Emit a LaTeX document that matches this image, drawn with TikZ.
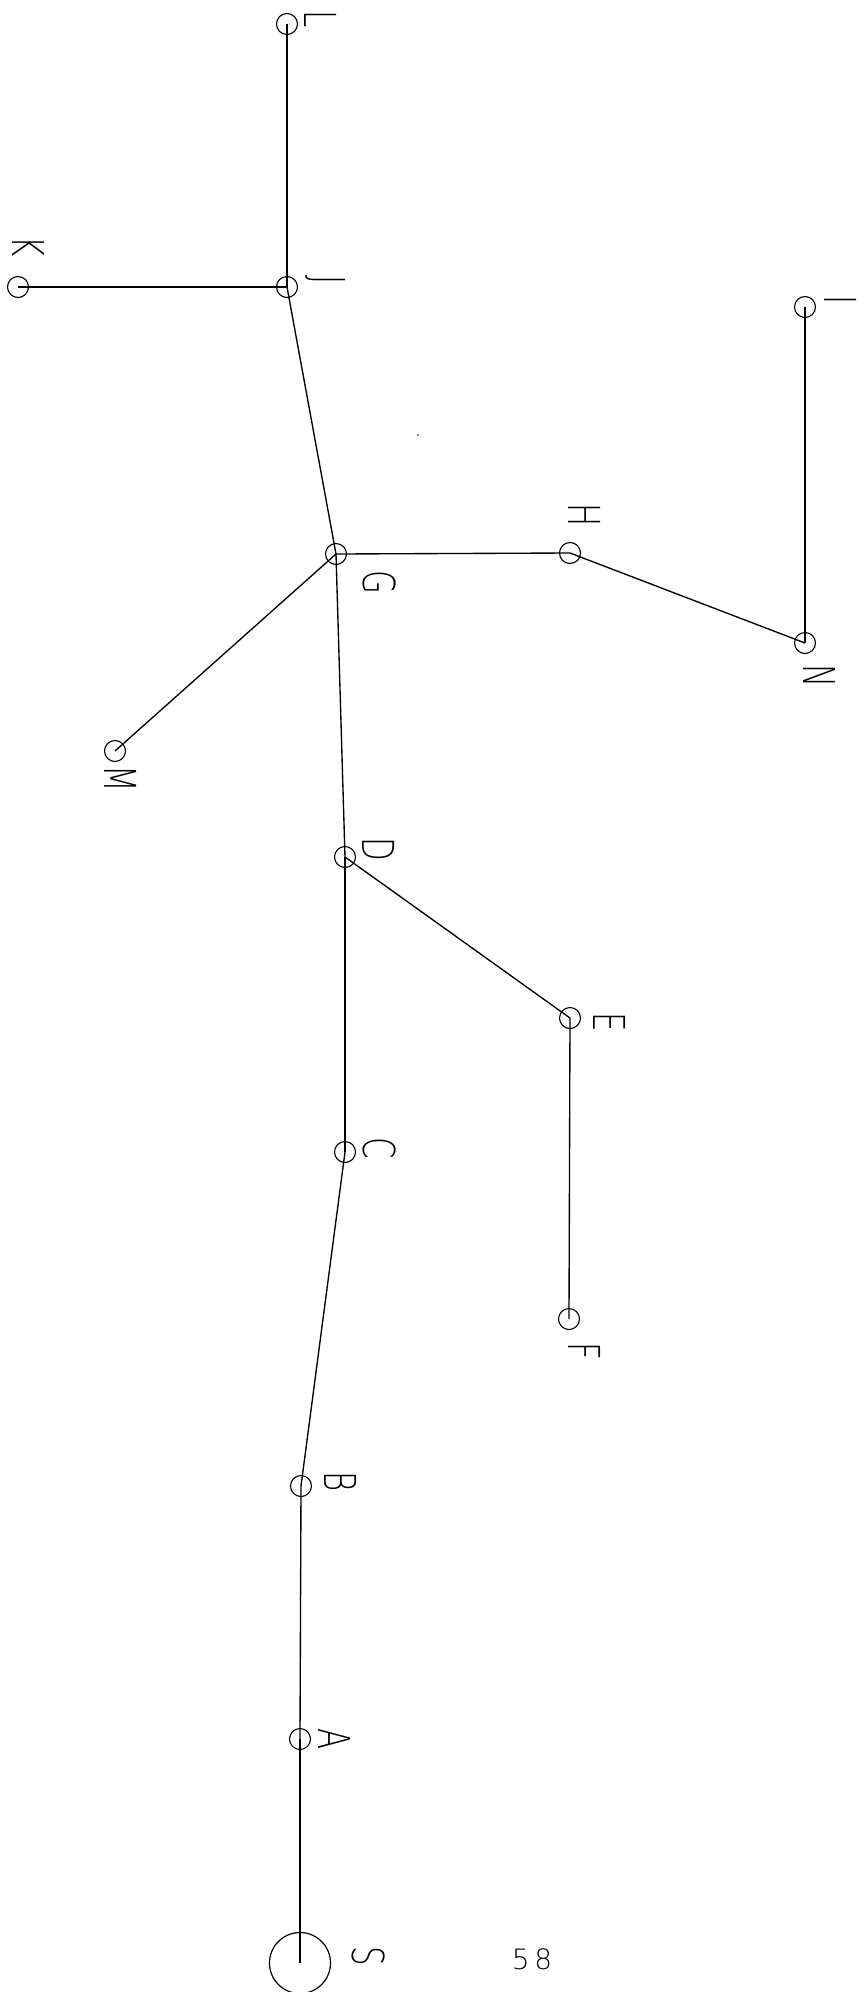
\documentclass[tikz,border=0pt]{standalone}
\usepackage{fontspec}
\newfontfamily\lbl{DejaVu Sans ExtraLight}
\begin{document}
\begin{tikzpicture}[x=1pt,y=-1pt,
  pt/.style={circle, draw, line width=1.1pt, minimum size=21pt, inner sep=0pt},
  src/.style={circle, draw, line width=1.2pt, minimum size=61pt, inner sep=0pt},
  lab/.style={rotate=-90, inner sep=0pt, font=\lbl\fontsize{44}{44}\selectfont},
  num/.style={inner sep=0pt, font=\lbl\fontsize{28}{28}\selectfont},
  edge/.style={line width=1.35pt}]
\useasboundingbox (0,0) rectangle (863,1992);
% points
\node[pt] (L) at (287,24) {};
\node[pt] (J) at (287,287) {};
\node[pt] (K) at (18,287) {};
\node[pt] (I) at (805,307) {};
\node[pt] (H) at (570,553) {};
\node[pt] (N) at (805,643) {};
\node[pt] (G) at (336,554) {};
\node[pt] (M) at (115,751) {};
\node[pt] (D) at (345,857) {};
\node[pt] (E) at (570,1018) {};
\node[pt] (C) at (345,1152) {};
\node[pt] (F) at (569,1319) {};
\node[pt] (B) at (301,1486) {};
\node[pt] (A) at (300,1739) {};
\node[src] (S) at (300,1963) {};
% labels
\node[lab] (tL) at (321,19) {\scalebox{0.7}[1]{L}};
\node[lab] (tK) at (29,247) {\scalebox{0.7}[1]{K}};
\node[lab] (tJ) at (326,280) {\scalebox{0.7}[1]{J}};
\node[lab] (tI) at (841,300) {\scalebox{0.7}[1]{I}};
\node[lab] (tH) at (585,515) {\scalebox{0.7}[1]{H}};
\node[lab] (tN) at (820,676) {\scalebox{0.7}[1]{N}};
\node[lab] (tG) at (380,582) {\scalebox{0.7}[1]{G}};
\node[lab] (tM) at (121,779) {\scalebox{0.7}[1]{M}};
\node[lab] (tD) at (379,849) {\scalebox{0.7}[1]{D}};
\node[lab] (tE) at (610,1022) {\scalebox{0.7}[1]{E}};
\node[lab] (tC) at (380,1148) {\scalebox{0.7}[1]{C}};
\node[lab] (tF) at (585,1351) {\scalebox{0.7}[1]{F}};
\node[lab] (tB) at (341,1482) {\scalebox{0.7}[1]{B}};
\node[lab] (tA) at (335,1739) {\scalebox{0.7}[1]{A}};
\node[lab] (tS) at (369,1956) {\scalebox{0.7}[1]{S}};
\node[num] (page) at (532,1959) {5\,8};
\fill (418,435) circle (0.8pt);
% edges
\draw[edge] (L.center) -- (J.center);
\draw[edge] (K.center) -- (J.center);
\draw[edge] (J.center) -- (G.center);
\draw[edge] (G.center) -- (H.center);
\draw[edge] (H.center) -- (N.center);
\draw[edge] (N.center) -- (I.center);
\draw[edge] (G.center) -- (M.center);
\draw[edge] (G.center) -- (D.center);
\draw[edge] (D.center) -- (E.center);
\draw[edge] (E.center) -- (F.center);
\draw[edge] (D.center) -- (C.center);
\draw[edge] (C.center) -- (B.center);
\draw[edge] (B.center) -- (A.center);
\draw[edge] (A.center) -- (S.center);
\end{tikzpicture}
\end{document}
